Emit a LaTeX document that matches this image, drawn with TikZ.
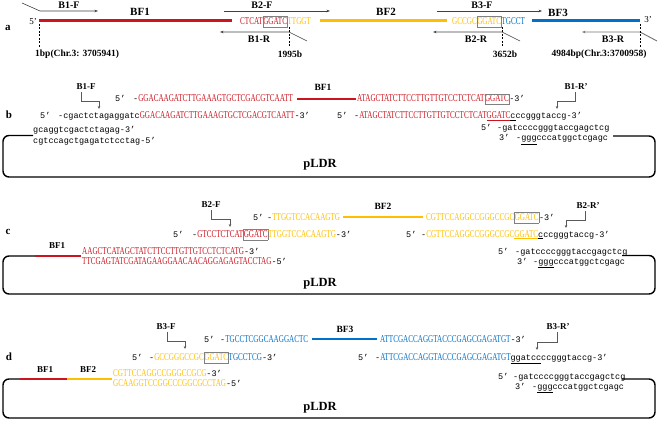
\documentclass[tikz,border=0pt]{standalone}
\usepackage{fontspec}
\setmainfont{Liberation Serif}
\newfontfamily\seqf[FakeStretch=0.68]{Liberation Serif}
\newfontfamily\monf{Liberation Mono}
\usetikzlibrary{arrows.meta}
\definecolor{cR}{RGB}{204,20,30}
\definecolor{cY}{RGB}{255,190,0}
\definecolor{cB}{RGB}{0,112,200}
\newcommand\sqU[1]{{\seqf\fontsize{10.5}{11}\selectfont #1}}
\newcommand\sqL[1]{{\monf\fontsize{8.5}{10}\selectfont #1}}
\newcommand\seqR[1]{\textcolor{cR}{\sqU{#1}}}
\newcommand\seqY[1]{\textcolor{cY}{\sqU{#1}}}
\newcommand\seqB[1]{\textcolor{cB}{\sqU{#1}}}
\newcommand\gbox[1]{{\setlength\fboxsep{0pt}\setlength\fboxrule{0.5pt}\fcolorbox{gray}{white}{\rule[-2.5pt]{0pt}{10pt}#1}}}
\newcommand\ulR[1]{\textcolor{cR}{\underline{\sqU{#1}}}}
\newcommand\ulY[1]{\textcolor{cY}{\underline{\sqU{#1}}}}
\tikzset{
 lab/.style={font=\bfseries\fontsize{9}{10}\selectfont, inner sep=0pt},
 laba/.style={font=\bfseries\fontsize{10}{11}\selectfont, inner sep=0pt},
 posl/.style={font=\bfseries\fontsize{9.5}{10}\selectfont, inner sep=0pt},
 big/.style={font=\bfseries\fontsize{11}{12}\selectfont, inner sep=0pt},
 mid/.style={font=\bfseries\fontsize{9.5}{10}\selectfont, inner sep=0pt},
 plas/.style={font=\bfseries\fontsize{12.5}{13}\selectfont, inner sep=0pt},
 sq/.style={anchor=base west, inner sep=0pt},
 pr/.style={draw=black!75, line width=0.6pt, -{Stealth[length=3.5pt,width=2.6pt]}},
 el/.style={draw=black!65, line width=0.8pt, -{Stealth[length=3pt,width=2.6pt]}},
 dsh/.style={line width=0.6pt, dash pattern=on 2pt off 1.5pt},
 plasmid/.style={line width=1.4pt, rounded corners=6pt},
}
\begin{document}
\begin{tikzpicture}[x=1pt,y=-1pt]
\useasboundingbox (0,0) rectangle (660,422);
% ================= panel a =================
\node[big] (pa) at (8,28) {a};
\node[inner sep=0pt, font=\fontsize{9}{10}\selectfont] (a5) at (33,22) {5’};
\node[inner sep=0pt, font=\fontsize{9}{10}\selectfont] (a3) at (648,20) {3’};
\coordinate (r1) at (39,21); \coordinate (r2) at (232,21);
\coordinate (y1) at (320,21); \coordinate (y2) at (447,21);
\coordinate (b1) at (532,21); \coordinate (b2) at (640,21);
\draw[cR, line width=3pt] (r1) -- (r2);
\draw[cY, line width=3pt] (y1) -- (y2);
\draw[cB, line width=3pt] (b1) -- (b2);
\node[big] (aBF1) at (140,12) {BF1};
\node[big] (aBF2) at (386,12) {BF2};
\node[big] (aBF3) at (558,13) {BF3};
\node[sq] (aj1) at (240,24.5) {\seqR{CTCAT}\gbox{\seqR{GGATC}}\seqY{TTGGT}};
\node[sq] (aj2) at (452,24.5) {\seqY{GCCGC}\gbox{\seqY{GGATC}}\seqB{TGCCT}};
% primers
\node[laba] (lB1F) at (69,5) {B1-F};
\node[laba] (lB2F) at (262,5) {B2-F};
\node[laba] (lB3F) at (482,5) {B3-F};
\node[laba] (lB1R) at (259,39) {B1-R};
\node[laba] (lB2R) at (476,39) {B2-R};
\node[laba] (lB3R) at (613,39) {B3-R};
\draw[pr] (22,3) -- (40,11) -- (98,11);
\draw[pr] (224,11) -- (330,11);
\draw[pr] (437,11) -- (542,11);
\draw[pr] (307,41) -- (289,32) -- (220,32);
\draw[pr] (520,41) -- (502,32) -- (433,32);
\draw[pr, draw=black!55, line width=0.9pt] (657,41) -- (640,32) -- (582,32);
% positions
\draw[dsh] (39,24) -- (39,47);
\draw[dsh] (289,27) -- (289,47);
\draw[dsh] (502,27) -- (502,47);
\draw[dsh] (640,24) -- (640,47);
\node[posl, anchor=west] (p1) at (35,54) {1bp(Chr.3: 3705941)};
\node[posl] (p2) at (290,54) {1995b};
\node[posl] (p3) at (505,54) {3652b};
\node[posl] (p4) at (599,54) {4984bp(Chr.3:3700958)};
% ================= panel b =================
\node[big] (pb) at (9,115) {b};
\node[lab] (bB1F) at (86,87) {B1-F};
\draw[el] (81,92) -- (81,101) -- (99,101) -- (99,109);
\node[lab] (bB1R) at (576,87) {B1-R’};
\draw[el] (575,92) -- (575,101) -- (557,101) -- (557,109);
\node[sq] (b51) at (115,102) {\sqL{5’}};
\node[sq] (bt1) at (133,102) {\sqL{-}\seqR{GGACAAGATCTTGAAAGTGCTCGACGTCAATT}};
\draw[cR, line width=1.6pt] (297,99) -- (356,99);
\node[mid] (bBF1) at (323,87) {BF1};
\node[sq] (bt2) at (357,102) {\seqR{ATAGCTATCTTCCTTGTTGTCCTCTCAT}\gbox{\seqR{GGATC}}\sqL{-3’}};
\node[sq] (b52) at (40,119) {\sqL{5’}};
\node[sq] (bs1) at (58,119) {\sqL{-cgactctagaggatc}\seqR{GGACAAGATCTTGAAAGTGCTCGACGTCAATT}\sqL{-3’}};
\node[sq] (b53) at (337,119) {\sqL{5’}};
\node[sq] (bs2) at (354,119) {\sqL{-}\seqR{ATAGCTATCTTCCTTGTTGTCCTCTCAT}\ulR{GGATC}\sqL{\underline{c}ccgggtaccg-3’}};
\node[sq] (b54) at (481,131) {\sqL{5’}};
\node[sq] (bv1) at (497,131) {\sqL{-gatccccgggtaccgagctcg}};
\node[sq] (b31) at (499,141) {\sqL{3’}};
\node[sq] (bv2) at (516,141) {\sqL{-\underline{ggg}cccatggctcgagc}};
\node[sq] (bv3) at (33,133) {\sqL{gcaggtcgactctagag-3’}};
\node[sq] (bv4) at (33,143) {\sqL{cgtccagctgagatctcctag-5’}};
\draw[plasmid] (33,135.5) -- (3,135.5) -- (3,177) -- (655,177) -- (655,136) -- (613,136);
\node[plas] (bpl) at (320,165) {pLDR};
% ================= panel c =================
\node[big] (pc) at (8,232) {c};
\node[lab] (cB2F) at (211,205) {B2-F};
\draw[el] (211,210) -- (211,219) -- (230,219) -- (230,227);
\node[lab] (cB2R) at (588,206) {B2-R’};
\draw[el] (585,211) -- (585,220) -- (566,220) -- (566,228);
\node[sq] (c51) at (253,220) {\sqL{5’}};
\node[sq] (ct1) at (267,220) {\sqL{-}\seqY{TTGGTCCACAAGTG}};
\draw[cY, line width=1.6pt] (343,217) -- (423,217);
\node[mid] (cBF2) at (383,206) {BF2};
\node[sq] (ct2) at (426,220) {\seqY{CGTTCCAGGCCGGGCCGC}\gbox{\seqY{GGATC}}\sqL{-3’}};
\node[sq] (c52) at (173,237) {\sqL{5’}};
\node[sq] (cs1) at (192,237) {\sqL{-}\seqR{GTCCTCTCAT}\gbox{\seqR{GGATC}}\seqY{TTGGTCCACAAGTG}\sqL{-3’}};
\node[sq] (c53) at (406,237) {\sqL{5’}};
\node[sq] (cs2) at (421,237) {\sqL{-}\seqY{CGTTCCAGGCCGGGCCGC}\ulY{GGATC}\sqL{\underline{c}ccgggtaccg-3’}};
\node[sq] (c54) at (498,254) {\sqL{5’}};
\node[sq] (cv1) at (515,254) {\sqL{-gatccccgggtaccgagctcg}};
\node[sq] (c31) at (517,264) {\sqL{3’}};
\node[sq] (cv2) at (533,264) {\sqL{-\underline{ggg}cccatggctcgagc}};
\node[lab] (cBF1) at (57,246) {BF1};
\node[sq] (cl1) at (82,254) {\seqR{AAGCTCATAGCTATCTTCCTTGTTGTCCTCTCATG}\sqL{-3’}};
\node[sq] (cl2) at (82,264) {\seqR{TTCGAGTATCGATAGAAGGAACAACAGGAGAGTACCTAG}\sqL{-5’}};
\draw[plasmid] (36,256) -- (3,256) -- (3,294) -- (655,294) -- (655,255.5) -- (622,255.5);
\draw[cR, line width=1.4pt] (35,256) -- (81,256);
\node[plas] (cpl) at (320,284) {pLDR};
% ================= panel d =================
\node[big] (pd) at (9,357) {d};
\node[lab] (dB3F) at (166,327) {B3-F};
\draw[el] (167,332) -- (167,341) -- (185,341) -- (185,349);
\node[lab] (dB3R) at (558,327) {B3-R’};
\draw[el] (557,332) -- (557,342) -- (537,342) -- (537,350);
\node[sq] (d51) at (204,342) {\sqL{5’}};
\node[sq] (dt1) at (220,342) {\sqL{-}\seqB{TGCCTCGGCAAGGACTC}};
\draw[cB, line width=1.6pt] (312,339) -- (377,339);
\node[mid] (dBF3) at (345,329) {BF3};
\node[sq] (dt2) at (380,342) {\seqB{ATTCGACCAGGTACCCGAGCGAGATGT}\sqL{-3’}};
\node[sq] (d52) at (132,360) {\sqL{5’}};
\node[sq] (ds1) at (149,360) {\sqL{-}\seqY{GCCGGGCCGC}\gbox{\seqY{GGATC}}\seqB{TGCCTCG}\sqL{-3’}};
\node[sq] (d53) at (358,360) {\sqL{5’}};
\node[sq] (ds2) at (375,360) {\sqL{-}\seqB{ATTCGACCAGGTACCCGAGCGAGATGT}\sqL{\underline{ggatcc}ccgggtaccg-3’}};
\node[sq] (d54) at (498,379) {\sqL{5’}};
\node[sq] (dv1) at (513,379) {\sqL{-gatccccgggtaccgagctcg}};
\node[sq] (d31) at (515,389) {\sqL{3’}};
\node[sq] (dv2) at (532,389) {\sqL{-\underline{ggg}cccatggctcgagc}};
\node[lab] (dBF1) at (45,370) {BF1};
\node[lab] (dBF2) at (88,370) {BF2};
\node[sq] (dl1) at (113,376) {\seqY{CGTTCCAGGCCGGGCCGCG}\sqL{-3’}};
\node[sq] (dl2) at (113,386) {\seqY{GCAAGGTCCGGCCCGGCGCCTAG}\sqL{-5’}};
\draw[plasmid] (21,379) -- (3,379) -- (3,418) -- (655,418) -- (655,379) -- (622,379);
\draw[cR, line width=1.4pt] (20,379) -- (67,379);
\draw[cY, line width=1.4pt] (67,379) -- (112,379);
\node[plas] (dpl) at (320,408) {pLDR};
\end{tikzpicture}
\end{document}
